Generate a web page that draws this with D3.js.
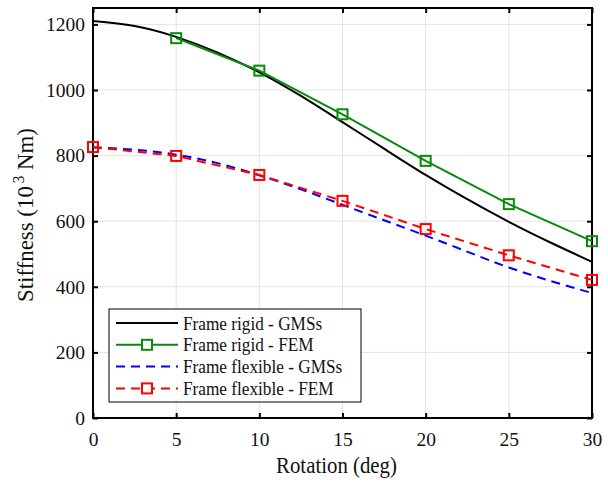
<!DOCTYPE html>
<html>
<head>
<meta charset="utf-8">
<script src="https://cdn.jsdelivr.net/npm/d3@7"></script>
<style>
  body { margin: 0; background: #fff; }
  text { font-family: "Liberation Serif", "Times New Roman", serif; fill: #111; }
</style>
</head>
<body>
<div id="chart"></div>
<script>
// Data
const rotGMS = [0, 2.5, 5, 7.5, 10, 12.5, 15, 17.5, 20, 22.5, 25, 27.5, 30];
const rigidGMS = [1210, 1195, 1162, 1114, 1054, 982, 902, 821, 741, 667, 598, 535, 476];
const flexGMS = [825, 818, 803, 777, 740, 697, 650, 603, 556, 507, 459, 418, 381];

const rotRigidFEM = [5, 10, 15, 20, 25, 30];
const rigidFEM = [1158, 1059, 926, 784, 652, 539];
const rotFlexFEM = [0, 5, 10, 15, 20, 25, 30];
const flexFEM = [826, 799, 741, 662, 576, 496, 421];

const xTicks = [0, 5, 10, 15, 20, 25, 30];
const yTicks = [0, 200, 400, 600, 800, 1000, 1200];

const legendItems = [
    { label: "Frame rigid - GMSs", color: "#000", dash: null, marker: false },
    { label: "Frame rigid - FEM", color: "#0a8a0a", dash: null, marker: true },
    { label: "Frame flexible - GMSs", color: "#0000ff", dash: "9,6", marker: false },
    { label: "Frame flexible - FEM", color: "#ff0000", dash: "9,6", marker: true }
];

const W = 608, H = 482;
const margin = { top: 8, right: 16, bottom: 64, left: 93 };
const width = W - margin.left - margin.right;
const height = H - margin.top - margin.bottom;

const svg = d3.select("#chart").append("svg")
    .attr("width", W)
    .attr("height", H)
    .append("g")
    .attr("transform", `translate(${margin.left},${margin.top})`);

const x = d3.scaleLinear().domain([0, 30]).range([0, width]);
const y = d3.scaleLinear().domain([0, 1250]).range([height, 0]);

// grid
svg.append("g").selectAll("line.gx")
    .data(xTicks.slice(1, -1)).enter().append("line")
    .attr("x1", d => x(d)).attr("x2", d => x(d))
    .attr("y1", 0).attr("y2", height)
    .attr("stroke", "#e3e3e3").attr("stroke-width", 1);
svg.append("g").selectAll("line.gy")
    .data(yTicks.slice(1)).enter().append("line")
    .attr("x1", 0).attr("x2", width)
    .attr("y1", d => y(d)).attr("y2", d => y(d))
    .attr("stroke", "#e3e3e3").attr("stroke-width", 1);

// axes with inward ticks
function styleAxis(g) {
    g.attr("font-family", "Liberation Serif").attr("font-size", 19.5);
    g.select(".domain").remove();
    g.selectAll(".tick line").attr("stroke", "#000").attr("stroke-width", 2);
    g.selectAll(".tick text").attr("fill", "#111");
}
const fmt = d3.format("d");
svg.append("g").attr("transform", `translate(0,${height})`)
    .call(d3.axisBottom(x).tickValues(xTicks).tickFormat(fmt).tickSizeInner(-5).tickSizeOuter(0).tickPadding(14))
    .call(styleAxis);
svg.append("g")
    .call(d3.axisLeft(y).tickValues(yTicks).tickFormat(fmt).tickSizeInner(-5).tickSizeOuter(0).tickPadding(8))
    .call(styleAxis);
svg.append("g")
    .call(d3.axisTop(x).tickValues(xTicks).tickSizeInner(-5).tickSizeOuter(0).tickFormat(""))
    .call(styleAxis);
svg.append("g").attr("transform", `translate(${width},0)`)
    .call(d3.axisRight(y).tickValues(yTicks).tickSizeInner(-5).tickSizeOuter(0).tickFormat(""))
    .call(styleAxis);

svg.append("rect")
    .attr("x", 0).attr("y", 0).attr("width", width).attr("height", height)
    .attr("fill", "none").attr("stroke", "#000").attr("stroke-width", 2);

// lines
const smooth = d3.line().x(d => x(d[0])).y(d => y(d[1])).curve(d3.curveNatural);
const straight = d3.line().x(d => x(d[0])).y(d => y(d[1]));

const plot = svg.append("g");

plot.append("path")
    .datum(d3.zip(rotGMS, rigidGMS))
    .attr("d", smooth).attr("fill", "none")
    .attr("stroke", legendItems[0].color).attr("stroke-width", 2);

plot.append("path")
    .datum(d3.zip(rotRigidFEM, rigidFEM))
    .attr("d", straight).attr("fill", "none")
    .attr("stroke", legendItems[1].color).attr("stroke-width", 2);

plot.append("path")
    .datum(d3.zip(rotGMS, flexGMS))
    .attr("d", smooth).attr("fill", "none")
    .attr("stroke", legendItems[2].color).attr("stroke-width", 2)
    .attr("stroke-dasharray", legendItems[2].dash);

plot.append("path")
    .datum(d3.zip(rotFlexFEM, flexFEM))
    .attr("d", straight).attr("fill", "none")
    .attr("stroke", legendItems[3].color).attr("stroke-width", 2)
    .attr("stroke-dasharray", legendItems[3].dash);

function squares(data, color) {
    plot.append("g").selectAll("rect")
        .data(data).enter().append("rect")
        .attr("x", d => x(d[0]) - 5).attr("y", d => y(d[1]) - 5)
        .attr("width", 10).attr("height", 10)
        .attr("fill", "none").attr("stroke", color).attr("stroke-width", 2);
}
squares(d3.zip(rotRigidFEM, rigidFEM), legendItems[1].color);
squares(d3.zip(rotFlexFEM, flexFEM), legendItems[3].color);

// axis labels (the reference font is taller than it is wide, so squeeze to fit)
const xl = svg.append("text")
    .attr("text-anchor", "middle")
    .style("font-size", "24px")
    .text("Rotation (deg)");
const xw = xl.node().getComputedTextLength();
xl.attr("transform", `translate(${width / 2 - 6},${height + 55}) scale(${121 / xw},1)`);

const yl = svg.append("text")
    .attr("text-anchor", "middle")
    .style("font-size", "24px");
yl.append("tspan").text("Stiffness (10");
yl.append("tspan").attr("dx", 3).attr("dy", -9).style("font-size", "16px").text("3");
yl.append("tspan").attr("dy", 9).text("  Nm)");
const yw = yl.node().getBBox().width;
yl.attr("transform", `translate(-60,207) rotate(-90) scale(${174 / yw},1)`);

// legend
const lg = svg.append("g").attr("transform", "translate(16,301)");
lg.append("rect")
    .attr("width", 252).attr("height", 93)
    .attr("fill", "#fff").attr("stroke", "#000").attr("stroke-width", 1);

const rows = lg.selectAll("g.row").data(legendItems).enter().append("g")
    .attr("transform", (d, i) => `translate(0,${14 + i * 21.8})`);
rows.append("line")
    .attr("x1", 7).attr("x2", 69).attr("y1", 0).attr("y2", 0)
    .attr("stroke", d => d.color).attr("stroke-width", 2)
    .attr("stroke-dasharray", d => d.dash);
rows.filter(d => d.marker).append("rect")
    .attr("x", 33).attr("y", -5).attr("width", 10).attr("height", 10)
    .attr("fill", "#fff").attr("stroke", d => d.color).attr("stroke-width", 2);
rows.append("text")
    .attr("transform", "translate(74,6.5) scale(0.87,1)")
    .style("font-size", "19.8px")
    .text(d => d.label);
</script>
</body>
</html>
